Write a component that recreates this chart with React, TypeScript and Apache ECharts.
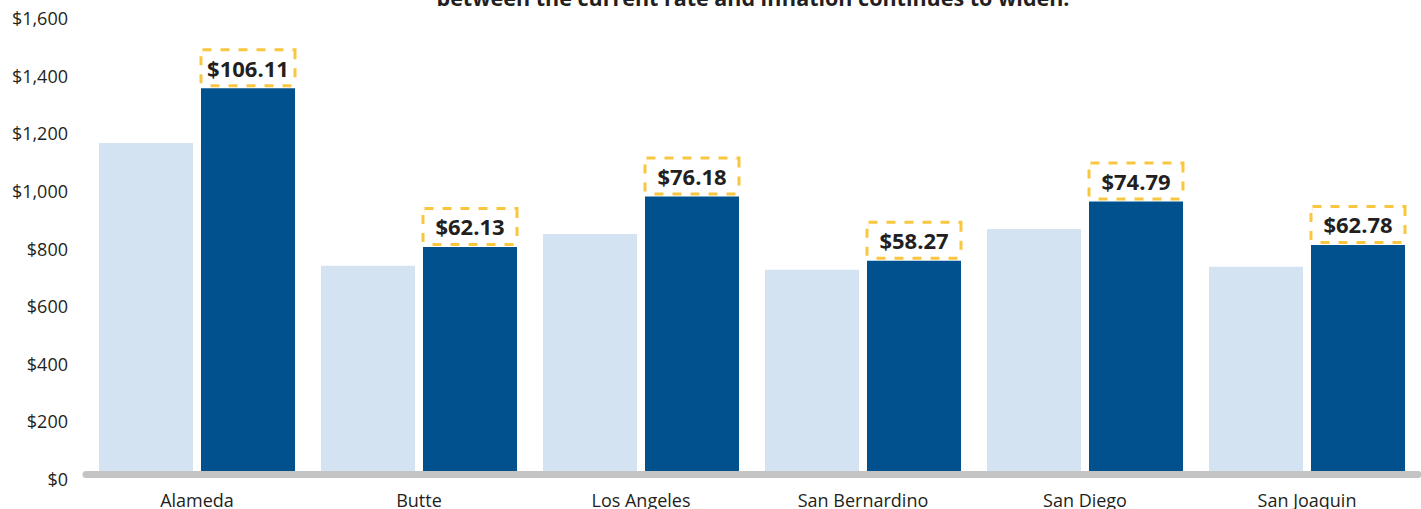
import React, { useEffect, useRef } from "react";
import * as echarts from "echarts";

const counties = ["Alameda", "Butte", "Los Angeles", "San Bernardino", "San Diego", "San Joaquin"];
const currentRate = [1149, 723, 833, 709, 850, 719];
const inflationRate = [1339, 788, 963, 740, 946, 795];
const gapLabels = ["$106.11", "$62.13", "$76.18", "$58.27", "$74.79", "$62.78"];
const yTicks = [0, 200, 400, 600, 800, 1000, 1200, 1400, 1600];
const titleText = "between the current rate and inflation continues to widen.";

const FONT = "'Open Sans', 'Noto Sans', sans-serif";
const TEXT = "#231F20";

export default function App() {
  const ref = useRef<HTMLDivElement>(null);
  useEffect(() => {
    if (!ref.current) return;
    const chart = echarts.init(ref.current, undefined, { renderer: "svg" });
    chart.setOption({
      animation: false,
      textStyle: { fontFamily: FONT },
      grid: { left: 86, right: 3, top: 13, bottom: 31 },
      graphic: [
        {
          type: "text",
          x: 753,
          y: -3,
          style: {
            text: titleText,
            fill: TEXT,
            font: `bold 21.5px ${FONT}`,
            align: "center",
            verticalAlign: "middle",
          },
        },
      ],
      xAxis: {
        type: "category",
        data: counties,
        z: 5,
        axisTick: { show: false },
        axisLine: { show: true, lineStyle: { color: "#C4C4C4", width: 7 } },
        axisLabel: { fontSize: 18, color: TEXT, margin: 17, fontFamily: FONT },
      },
      yAxis: {
        type: "value",
        min: yTicks[0],
        max: yTicks[yTicks.length - 1],
        interval: 200,
        splitLine: { show: false },
        axisLine: { show: false },
        axisTick: { show: false },
        axisLabel: {
          fontSize: 18,
          color: TEXT,
          margin: 18,
          fontFamily: FONT,
          verticalAlign: "top",
          lineHeight: 10,
          formatter: (v: number) => "$" + v.toLocaleString("en-US"),
        },
      },
      series: [
        {
          type: "bar",
          data: currentRate,
          barWidth: 94,
          barGap: "8.5%",
          itemStyle: { color: "#D4E3F2" },
        },
        {
          type: "bar",
          data: inflationRate,
          barWidth: 94,
          barGap: "8.5%",
          itemStyle: { color: "#00518E" },
          label: {
            show: true,
            position: "top",
            distance: 4,
            formatter: (p: any) => gapLabels[p.dataIndex],
            fontSize: 22,
            fontWeight: "bold",
            fontFamily: FONT,
            color: TEXT,
            backgroundColor: "#FFFFFF",
            borderColor: "#F9C640",
            borderWidth: 3,
            borderType: [9, 9],
            width: 91,
            height: 33,
            lineHeight: 33,
            align: "center",
          },
        },
      ],
    });
    return () => chart.dispose();
  }, []);
  return <div ref={ref} style={{ width: 1421, height: 509, position: "absolute", left: 0, top: 0 }} />;
}
